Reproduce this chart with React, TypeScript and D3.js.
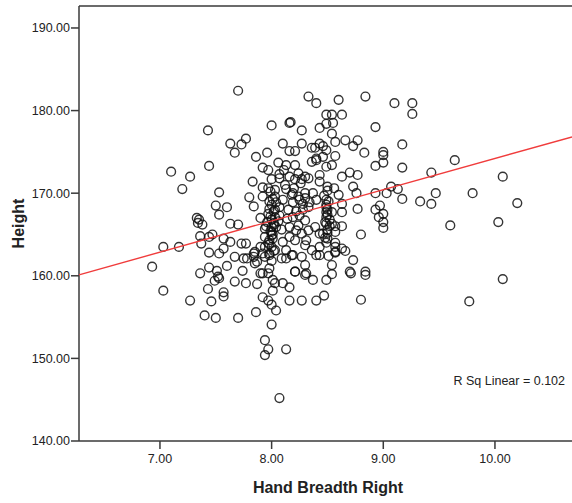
import React from "react";
import * as d3 from "d3";

const W = 572;
const H = 503;

// Hand Breadth Right (cm)
const handBreadth: number[] = [
  7.7, 7.43, 7.63, 7.73, 7.77, 7.67, 7.86, 7.1, 7.27, 7.44, 7.2, 7.83, 7.53, 7.8, 7.5, 7.6, 7.84, 7.53, 7.33, 7.34, 7.35, 7.38, 7.63, 7.7, 7.9, 7.36, 7.44, 7.47,
  7.03, 7.17, 7.37, 7.44, 7.53, 7.57, 7.63, 7.73, 7.77, 6.93, 7.36, 7.44, 7.51, 7.6, 7.67, 7.75, 7.78, 7.84, 7.74, 7.52, 7.53, 7.49, 7.67, 7.77, 7.87, 7.03, 7.43, 7.57, 7.57, 7.27, 7.46, 7.4, 7.5, 7.7, 7.86,
  9.1, 9.26, 9.26, 8.93, 9.17, 9.0, 9.0, 9.0, 8.93, 9.17, 9.64, 9.43, 10.07, 8.93, 9.03, 9.07, 9.13, 9.17, 9.47, 9.8, 9.33, 9.43, 10.2, 8.93, 8.97, 8.96, 9.0, 9.0, 9.0, 9.6, 10.03,
  10.07, 9.77,
  8.33, 8.4, 8.6, 8.84, 8.49, 8.54, 8.63, 8.17, 8.16, 8.0, 8.49, 8.55, 8.43, 8.27, 8.54, 8.1, 8.27, 8.43, 8.57, 8.66, 8.77, 8.73, 8.36, 8.39, 8.46, 8.49, 8.16, 8.21, 7.96, 8.83,
  8.4, 8.46, 8.57, 8.06, 8.13, 8.21, 8.36, 8.4, 8.54, 8.49, 7.92, 7.97, 8.07, 8.07, 8.0, 8.16, 8.21, 8.27, 8.3, 8.33, 8.43, 8.43, 8.63, 8.7, 8.77, 8.73, 8.5, 8.56,
  7.92, 7.97, 8.03, 8.13, 8.19, 8.24, 8.3, 8.3, 7.92, 8.03, 8.37, 8.4, 8.49, 8.49, 8.49, 8.49, 8.54, 8.63, 8.63, 8.77,
  7.98, 8.07, 8.07, 8.03, 7.96, 8.0, 7.94, 8.04, 8.19, 8.25, 8.3, 8.16, 8.22, 8.27, 8.39, 8.43, 8.49, 8.54, 8.57, 8.63, 8.8, 8.43, 8.57, 8.57, 8.63,
  7.94, 7.98, 8.0, 7.94, 7.92, 7.98, 8.03, 8.1, 8.16, 8.21, 8.13, 8.18, 8.31, 8.3, 8.36, 8.4, 8.73, 8.54, 8.84, 8.71, 8.21, 8.31, 7.9, 7.85,
  8.46, 8.57, 8.49, 8.57, 8.66, 8.57, 8.51, 8.43, 7.57, 7.87, 8.09, 8.13, 8.19, 8.27, 8.3, 8.7, 8.84, 8.49, 8.54, 8.37, 8.3, 8.21, 8.1, 8.16,
  8.01, 8.03, 8.01, 7.97, 7.98, 7.92, 7.9, 7.92, 7.97, 8.0, 8.04, 8.16, 8.27, 8.4, 8.47, 8.8, 8.0, 7.94, 7.97, 7.94, 8.13, 8.07,
  8.76, 8.6, 8.34, 8.33, 8.19, 8.25, 8.28, 7.94, 7.98, 7.84, 7.85,
  7.98, 8.0, 8.02, 7.97, 8.0, 8.02, 7.99, 8.01, 7.97, 8.0, 8.04, 8.06, 7.95,
  8.5, 8.52, 8.48, 8.5, 8.5, 8.47, 8.12, 8.2, 8.26, 8.1, 8.15, 8.22,
  7.99, 8.01, 8.03, 7.99, 8.02, 8.0, 8.01, 7.98, 8.02, 8.0,
  8.5, 8.51, 8.49, 8.5, 8.52, 8.5, 8.48,
  8.11, 8.24, 8.18, 8.28, 8.14, 8.24, 8.33, 8.09,
];

// Height (cm)
const height: number[] = [
  182.4, 177.6, 176.0, 175.9, 176.6, 174.9, 174.4, 172.6, 172.0, 173.3, 170.5, 171.4, 170.1, 169.5, 168.5, 168.3, 168.4, 167.4, 167.0, 166.4, 166.8, 166.2, 166.3, 166.2, 167.0, 164.8, 164.7, 165.0,
  163.5, 163.5, 163.9, 162.8, 162.7, 163.3, 164.1, 163.9, 163.9, 161.1, 160.3, 161.0, 160.6, 161.2, 162.3, 162.1, 162.1, 162.3, 160.6, 159.9, 159.7, 159.4, 159.3, 159.1, 159.0, 158.2, 158.4, 158.0, 157.5, 157.0, 156.9, 155.2, 154.9, 154.9, 155.6,
  180.9, 180.9, 179.6, 178.0, 175.9, 175.0, 174.6, 173.7, 173.3, 173.1, 174.0, 172.5, 172.0, 170.0, 170.0, 170.8, 170.5, 169.3, 170.0, 170.0, 169.0, 168.7, 168.8, 168.0, 168.5, 167.1, 167.5, 166.5, 165.8, 166.1, 166.5,
  159.6, 156.9,
  181.7, 180.9, 181.3, 181.7, 179.5, 179.5, 179.5, 178.6, 178.5, 178.2, 178.4, 178.5, 177.9, 177.6, 177.2, 176.0, 176.0, 176.0, 176.2, 176.4, 176.4, 175.7, 175.5, 175.5, 175.7, 175.2, 175.1, 175.1, 174.9, 174.9,
  174.2, 174.4, 174.5, 173.7, 173.4, 173.4, 173.8, 174.0, 173.4, 173.2, 173.1, 172.8, 172.3, 171.8, 171.7, 172.0, 171.7, 171.7, 172.0, 171.8, 172.2, 171.4, 172.0, 172.5, 172.2, 170.8, 170.8, 170.6,
  170.7, 170.6, 170.4, 170.5, 170.0, 169.6, 170.0, 169.4, 169.6, 169.6, 170.0, 169.2, 169.2, 168.3, 167.7, 167.1, 167.7, 168.7, 167.7, 168.1,
  168.1, 168.3, 167.3, 167.1, 166.5, 165.9, 165.7, 165.9, 167.1, 167.3, 166.7, 165.9, 165.5, 165.1, 165.9, 165.1, 166.3, 166.3, 166.0, 166.0, 165.0, 163.5, 163.5, 162.9, 163.3,
  164.7, 164.3, 163.5, 163.5, 162.7, 162.5, 163.1, 164.1, 164.7, 164.3, 163.1, 162.5, 164.3, 163.7, 163.1, 162.5, 161.9, 161.3, 160.5, 160.3, 160.5, 160.3, 163.5, 162.9,
  165.1, 165.3, 164.0, 164.0, 163.0, 162.8, 162.4, 162.5, 164.5, 161.7, 162.1, 162.1, 162.5, 162.3, 161.3, 160.5, 160.1, 159.5, 160.2, 159.5, 160.1, 160.5, 159.1, 158.6,
  159.5, 159.1, 158.2, 160.3, 160.9, 160.3, 160.3, 157.4, 157.0, 156.5, 155.8, 157.0, 157.0, 157.0, 157.6, 157.1, 154.1, 152.2, 151.1, 150.4, 151.1, 145.2,
  170.0, 169.8, 168.9, 168.3, 168.9, 169.2, 168.0, 162.3, 162.7, 162.7, 161.5,
  169.0, 168.6, 167.8, 167.5, 166.8, 166.2, 165.4, 165.0, 164.0, 164.9, 168.9, 166.6, 166.0,
  168.0, 166.8, 166.5, 165.6, 164.5, 169.7, 171.0, 170.6, 171.2, 169.2, 168.0, 167.8,
  170.2, 169.3, 168.0, 167.2, 166.4, 165.3, 164.5, 163.8, 163.0, 161.8,
  170.3, 169.0, 168.6, 167.4, 166.0, 165.2, 164.6,
  172.8, 172.4, 169.8, 168.7, 166.9, 166.1, 165.5, 165.6,
];

const xTicks = [7, 8, 9, 10];
const yTicks = [140, 150, 160, 170, 180, 190];
const xDomain: [number, number] = [6.275, 10.69];
const yDomain: [number, number] = [140, 192.66];

// Linear fit
const fitIntercept = 136.4;
const fitSlope = 3.78;
const rSqLabel = "R Sq Linear = 0.102";

const xLabel = "Hand Breadth Right";
const yLabel = "Height";

export default function App() {
  const left = 79;
  const right = 572;
  const top = 6;
  const bottom = 441;

  const x = d3.scaleLinear().domain(xDomain).range([left, right]);
  const y = d3.scaleLinear().domain(yDomain).range([bottom, top]);

  const points = handBreadth.map((hb, i) => ({ hb, h: height[i] }));

  const line = d3
    .line<number>()
    .x((v) => x(v))
    .y((v) => y(fitIntercept + fitSlope * v));

  const font = "'Liberation Sans', Arial, sans-serif";
  const axisColor = "#3a3a3a";

  return (
    <svg
      width={W}
      height={H}
      style={{ position: "absolute", left: 0, top: 0, background: "#fff" }}
      fontFamily={font}
    >
      <rect x={0} y={0} width={W} height={H} fill="#fff" />
      {/* frame */}
      <line x1={left} x2={right + 10} y1={top} y2={top} stroke={axisColor} strokeWidth={1.3} />
      <line x1={left} x2={right + 10} y1={bottom} y2={bottom} stroke={axisColor} strokeWidth={1.5} />
      <line x1={left} x2={left} y1={top} y2={bottom} stroke={axisColor} strokeWidth={1.5} />

      {/* y ticks */}
      {yTicks.map((t) => (
        <g key={"y" + t}>
          <line x1={left - 8} x2={left} y1={y(t)} y2={y(t)} stroke={axisColor} strokeWidth={1.5} />
          <text x={left - 9} y={y(t)} dy="0.35em" textAnchor="end" fontSize={12.5} fill="#222">
            {t.toFixed(2)}
          </text>
        </g>
      ))}
      {/* x ticks */}
      {xTicks.map((t) => (
        <g key={"x" + t}>
          <line x1={x(t)} x2={x(t)} y1={bottom} y2={bottom + 8} stroke={axisColor} strokeWidth={1.5} />
          <text x={x(t)} y={bottom + 22} textAnchor="middle" fontSize={12.5} fill="#222">
            {t.toFixed(2)}
          </text>
        </g>
      ))}

      {/* points */}
      <g>
        {points.map((p, i) => (
          <circle
            key={i}
            cx={x(p.hb)}
            cy={y(p.h)}
            r={4.4}
            fill="none"
            stroke="#111"
            strokeOpacity={0.85}
            strokeWidth={1.4}
          />
        ))}
      </g>

      {/* fit line */}
      <path d={line(xDomain) || ""} stroke="#f03c3c" strokeWidth={1.4} fill="none" />

      <text x={565} y={385} textAnchor="end" fontSize={12.5} fill="#222">
        {rSqLabel}
      </text>

      <text
        transform={`translate(24, ${(top + bottom) / 2}) rotate(-90)`}
        textAnchor="middle"
        fontSize={16}
        fontWeight="bold"
        fill="#222"
      >
        {yLabel}
      </text>
      <text x={328} y={493} textAnchor="middle" fontSize={16} fontWeight="bold" fill="#222">
        {xLabel}
      </text>
    </svg>
  );
}
